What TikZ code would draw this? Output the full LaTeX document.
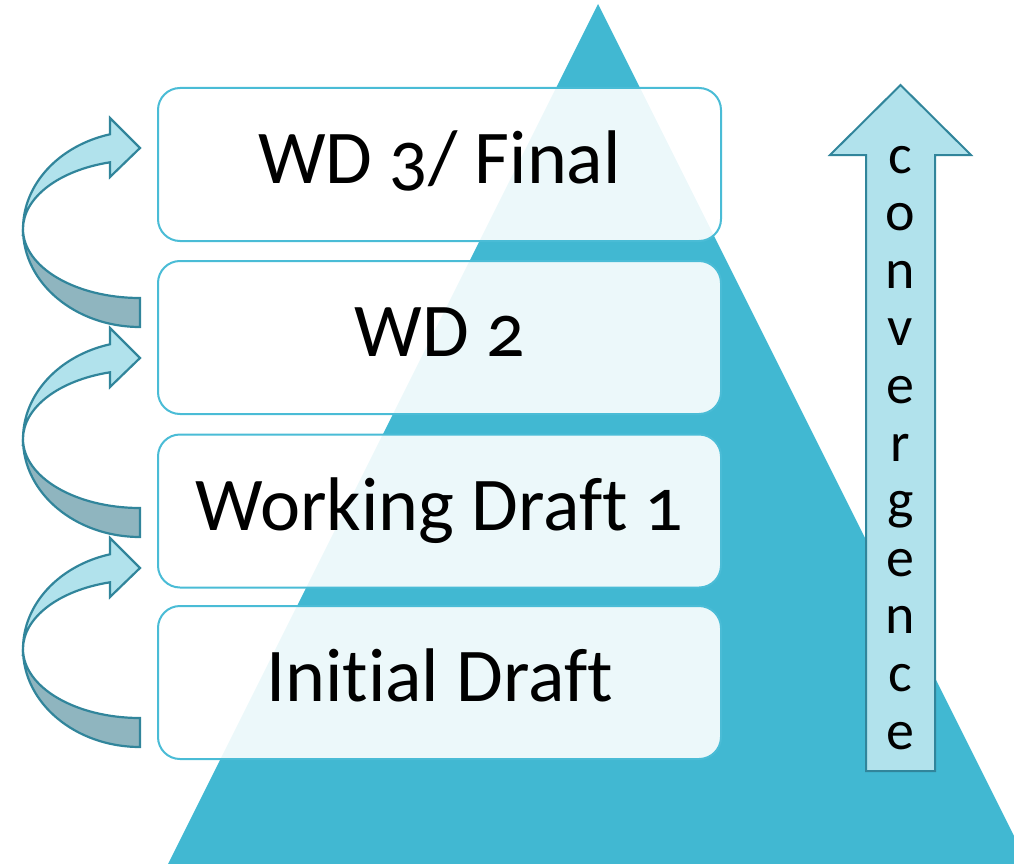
\documentclass[tikz,border=0pt]{standalone}
\usepackage{fontspec}
\setmainfont{Carlito}[Numbers=OldStyle, Ligatures=NoCommon]
\definecolor{pyramid}{HTML}{41B8D2}
\definecolor{boxline}{HTML}{4ABCD6}
\definecolor{arrowlight}{HTML}{B1E2EC}
\definecolor{arrowdark}{HTML}{8FB5BF}
\definecolor{arrowline}{HTML}{31859B}
\begin{document}
\begin{tikzpicture}[x=1pt,y=-1pt,
  stage/.style={draw=boxline, line width=2pt, rounded corners=22pt,
    fill=white, fill opacity=0.9, text opacity=1,
    minimum width=563pt, minimum height=153pt, inner sep=0pt,
    text height=52pt, text depth=14pt,
    font=\fontsize{76}{90}\selectfont},
  letter/.style={anchor=base, inner sep=0pt, font=\fontsize{56}{60}\selectfont},
  band/.style={draw=arrowline, line width=2.2pt, line join=miter},
  bend/.pic={
    % lower (back) half of the ribbon
    \path[band, fill=arrowdark]
      (-117,0) arc[start angle=180, end angle=90, x radius=117, y radius=98]
      -- (0,69) arc[start angle=90, end angle=180, x radius=117, y radius=69]
      -- cycle;
    % upper (front) half with the head
    \path[band, fill=arrowlight]
      (-117,0) arc[start angle=180, end angle=255.14, x radius=117, y radius=98]
      -- (-30,-111) -- (0,-81) -- (-30,-52)
      -- (-30,-66.7) arc[start angle=255.14, end angle=180, x radius=117, y radius=69]
      -- cycle;
  }]
\useasboundingbox (0,0) rectangle (1014,864);
\clip (0,0) rectangle (1014,864);

% pyramid in the background
\fill[pyramid] (598,4) -- (168,864) -- (1028,864) -- cycle;

% stages
\node[stage] (final) at (439.5,164.5) {WD 3/ Final};
\node[stage] (wd2)   at (439.5,337.5) {WD 2};
\node[stage] (wd1)   at (439.5,511)   {Working Draft 1};
\node[stage] (init)  at (439.5,682.5) {Initial Draft};

% curved arrows between stages
\pic at (140,229) {bend};
\pic at (140,439) {bend};
\pic at (140,649) {bend};

% convergence arrow
\path[draw=arrowline, line width=2pt, fill=arrowlight]
  (866,771) -- (866,155) -- (830,155) -- (900.5,85) -- (971,155)
  -- (935,155) -- (935,771) -- cycle;
\foreach \ch [count=\i from 0] in {c,o,n,v,e,r,g,e,n,c,e}
  \node[letter] (conv\i) at (900.5,{173+57.6*\i}) {\ch};
\end{tikzpicture}
\end{document}
